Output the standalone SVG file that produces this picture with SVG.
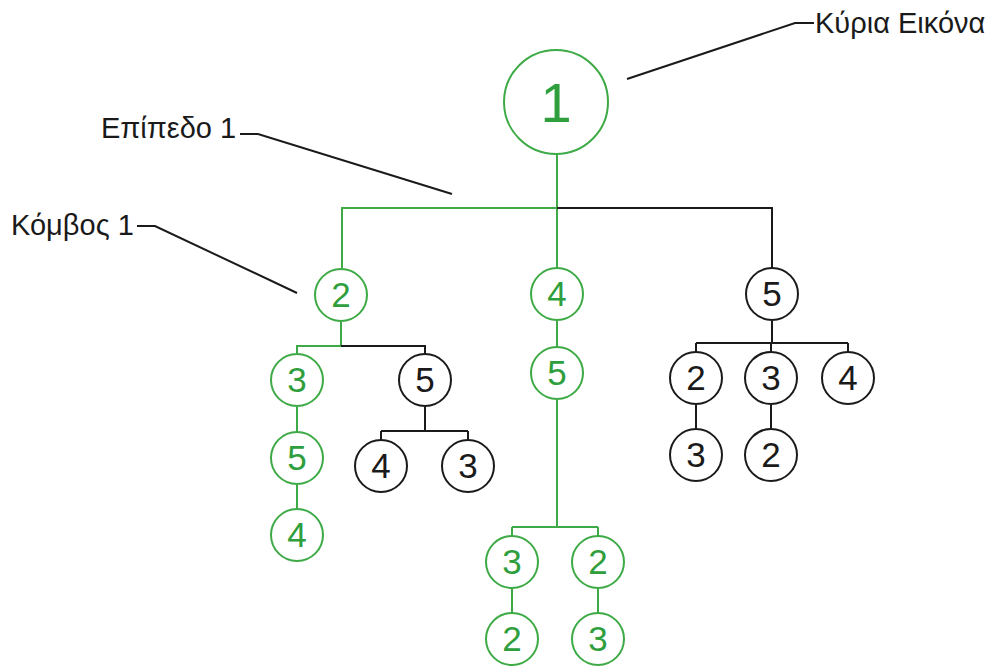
<svg xmlns="http://www.w3.org/2000/svg" width="995" height="667" viewBox="0 0 995 667">
<style>
.g{fill:#fff;stroke:#3daa45;stroke-width:2}
.k{fill:#fff;stroke:#1a1a1a;stroke-width:2}
.gt{fill:#2f9e3c;font-family:"Liberation Sans",Arial,sans-serif;font-size:35px;text-anchor:middle}
.kt{fill:#1a1a1a;font-family:"Liberation Sans",Arial,sans-serif;font-size:35px;text-anchor:middle}
.gl{fill:none;stroke:#3daa45;stroke-width:2}
.kl{fill:none;stroke:#1a1a1a;stroke-width:2}
.al{fill:none;stroke:#1a1a1a;stroke-width:2}
.lab{fill:#1a1a1a;font-family:"Liberation Sans",Arial,sans-serif;font-size:29px}
</style>
<g id="connectors">
<path class="gl" d="M557 155V294M557 208H342V268"/>
<path class="kl" d="M557 208H772V268"/>
<path class="gl" d="M341 322V346H297V354M297 407V432M297 485V509"/>
<path class="kl" d="M341 346H425V354M425 407V431M381 431H468M381 431V440M468 431V440"/>
<path class="gl" d="M557 321V347M557 400V527M512 527H598M512 527V536M598 527V536M512 589V613M598 589V613"/>
<path class="kl" d="M772 321V343M696 343H848M696 343V352M848 343V352M771 343V352M696 405V429M771 405V429"/>
</g>
<g id="annotations">
<path class="al" d="M627 79L795 23H814"/>
<path class="al" d="M240 134H258L452 194"/>
<path class="al" d="M137 226H155L297 293"/>
<text class="lab" x="815" y="33">Κύρια Εικόνα</text>
<text class="lab" x="101" y="138">Επίπεδο 1</text>
<text class="lab" x="11" y="235">Κόμβος 1</text>
</g>
<g id="n1"><circle class="g" cx="556" cy="102" r="52"/><text class="gt" x="556" y="122" style="font-size:56px">1</text></g>
<g id="n2"><circle class="g" cx="341" cy="295" r="26"/><text class="gt" x="341" y="307">2</text></g>
<g id="n4"><circle class="g" cx="557" cy="294" r="26"/><text class="gt" x="557" y="306">4</text></g>
<g id="n5r"><circle class="k" cx="772" cy="294" r="26"/><text class="kt" x="772" y="306">5</text></g>
<g id="n3a"><circle class="g" cx="297" cy="380" r="26"/><text class="gt" x="297" y="392">3</text></g>
<g id="n5a"><circle class="g" cx="297" cy="458" r="26"/><text class="gt" x="297" y="470">5</text></g>
<g id="n4a"><circle class="g" cx="297" cy="535" r="26"/><text class="gt" x="297" y="547">4</text></g>
<g id="n5b"><circle class="k" cx="425" cy="380" r="26"/><text class="kt" x="425" y="392">5</text></g>
<g id="n4b"><circle class="k" cx="381" cy="466" r="26"/><text class="kt" x="381" y="478">4</text></g>
<g id="n3b"><circle class="k" cx="468" cy="466" r="26"/><text class="kt" x="468" y="478">3</text></g>
<g id="n5m"><circle class="g" cx="557" cy="373" r="26"/><text class="gt" x="557" y="385">5</text></g>
<g id="n3m"><circle class="g" cx="512" cy="562" r="26"/><text class="gt" x="512" y="574">3</text></g>
<g id="n2m"><circle class="g" cx="598" cy="562" r="26"/><text class="gt" x="598" y="574">2</text></g>
<g id="n2mb"><circle class="g" cx="512" cy="639" r="26"/><text class="gt" x="512" y="651">2</text></g>
<g id="n3mb"><circle class="g" cx="598" cy="639" r="26"/><text class="gt" x="598" y="651">3</text></g>
<g id="n2r"><circle class="k" cx="696" cy="378" r="26"/><text class="kt" x="696" y="390">2</text></g>
<g id="n3r"><circle class="k" cx="771" cy="378" r="26"/><text class="kt" x="771" y="390">3</text></g>
<g id="n4r"><circle class="k" cx="848" cy="378" r="26"/><text class="kt" x="848" y="390">4</text></g>
<g id="n3rb"><circle class="k" cx="696" cy="455" r="26"/><text class="kt" x="696" y="467">3</text></g>
<g id="n2rb"><circle class="k" cx="771" cy="455" r="26"/><text class="kt" x="771" y="467">2</text></g>
</svg>
